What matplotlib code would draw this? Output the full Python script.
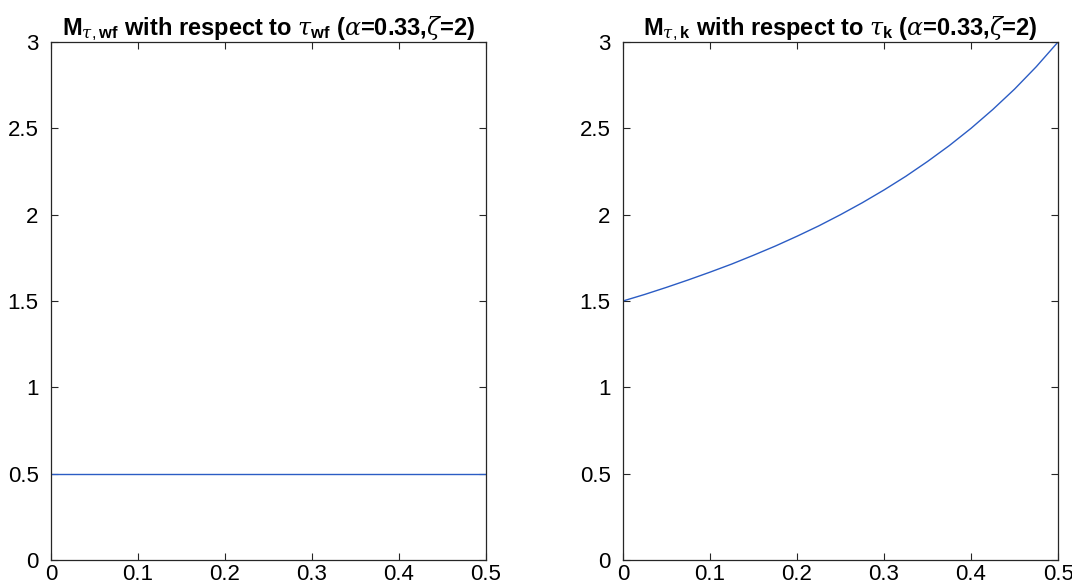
import matplotlib
matplotlib.use('Agg')
import matplotlib.pyplot as plt

plt.rcParams['font.family'] = ['Liberation Sans', 'DejaVu Sans']
plt.rcParams['mathtext.fontset'] = 'custom'
plt.rcParams['mathtext.rm'] = 'Liberation Sans'
plt.rcParams['mathtext.bf'] = 'Liberation Sans:bold'
plt.rcParams['mathtext.it'] = 'DejaVu Serif:italic'

# values
tau = [0.0, 0.025, 0.05, 0.075, 0.1, 0.125, 0.15, 0.175, 0.2, 0.225, 0.25,
       0.275, 0.3, 0.325, 0.35, 0.375, 0.4, 0.425, 0.45, 0.475, 0.5]
m_wf = [0.5] * len(tau)
m_k = [1.5, 1.538, 1.579, 1.622, 1.667, 1.714, 1.765, 1.818, 1.875, 1.935, 2.0,
       2.069, 2.143, 2.222, 2.308, 2.4, 2.5, 2.609, 2.727, 2.857, 3.0]

xticks = [0, 0.1, 0.2, 0.3, 0.4, 0.5]
xticklabels = ['0', '0.1', '0.2', '0.3', '0.4', '0.5']
yticks = [0, 0.5, 1, 1.5, 2, 2.5, 3]
yticklabels = ['0', '0.5', '1', '1.5', '2', '2.5', '3']

titles = [
    r'$\mathbf{M}_{\tau,\mathbf{wf}}$ with respect to $\tau_{\mathbf{wf}}$ ($\alpha$=0.33,$\zeta$=2)',
    r'$\mathbf{M}_{\tau,\mathbf{k}}$ with respect to $\tau_{\mathbf{k}}$ ($\alpha$=0.33,$\zeta$=2)',
]

fig = plt.figure(figsize=(10.72, 5.83), dpi=100)
ax1 = fig.add_axes([0.0476, 0.0395, 0.4058, 0.8885])
ax2 = fig.add_axes([0.5812, 0.0395, 0.4058, 0.8885])

line_color = '#2b5cc4'
for ax, ys, title in [(ax1, m_wf, titles[0]), (ax2, m_k, titles[1])]:
    ax.plot(tau, ys, color=line_color, lw=1.0)
    ax.set_xlim(0, 0.5)
    ax.set_ylim(0, 3)
    ax.set_xticks(xticks)
    ax.set_xticklabels(xticklabels)
    ax.set_yticks(yticks)
    ax.set_yticklabels(yticklabels)
    ax.tick_params(direction='in', top=True, right=True, length=5, width=0.8,
                   labelsize=16, colors='#262626', labelcolor='black')
    ax.tick_params(axis='x', pad=3)
    ax.tick_params(axis='y', pad=9)
    for sp in ax.spines.values():
        sp.set_color('#262626')
        sp.set_linewidth(0.9)
    ax.set_title(title, fontsize=17, fontweight='bold', pad=5)

fig.savefig('out.png', dpi=100)
